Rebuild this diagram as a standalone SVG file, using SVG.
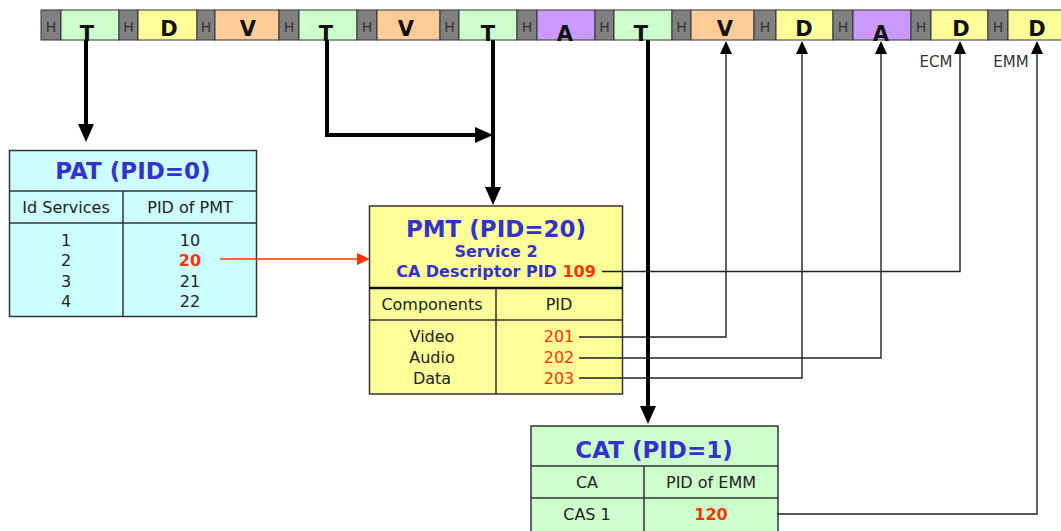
<svg xmlns="http://www.w3.org/2000/svg" width="1061" height="531" viewBox="0 0 1061 531">
<style>
.h{fill:#808080;stroke:#333;stroke-width:1}
.t{fill:#ccffcc;stroke:#333;stroke-width:1}
.d{fill:#ffff99;stroke:#333;stroke-width:1}
.v{fill:#ffcc99;stroke:#333;stroke-width:1}
.a{fill:#cc99ff;stroke:#333;stroke-width:1}
.hl{font-family:"DejaVu Sans",Verdana,sans-serif;font-size:14px;fill:#333;text-anchor:middle}
.pl{font-family:"DejaVu Sans",Verdana,sans-serif;font-size:21px;font-weight:bold;fill:#111;text-anchor:middle}
.tb{stroke:#333;stroke-width:1.5}
.ttl{font-family:"DejaVu Sans",Verdana,sans-serif;font-size:23px;font-weight:bold;fill:#3333cc;text-anchor:middle}
.sub{font-family:"DejaVu Sans",Verdana,sans-serif;font-size:16px;font-weight:bold;fill:#3333cc;text-anchor:middle}
.tx{font-family:"DejaVu Sans",Verdana,sans-serif;font-size:16px;fill:#222;text-anchor:middle}
.red{fill:#ff3300}
.b{font-weight:bold}
.lbl{font-family:"DejaVu Sans",Verdana,sans-serif;font-size:15px;fill:#333;text-anchor:middle}
.thick{fill:none;stroke:#000;stroke-width:4}
.thin{fill:none;stroke:#222;stroke-width:1.4}
.redl{fill:none;stroke:#ff3300;stroke-width:1.3}
</style>
<defs>
<marker id="mk" markerUnits="userSpaceOnUse" markerWidth="18" markerHeight="16" refX="8" refY="8" orient="auto"><path d="M0,0 L18,8 L0,16 z" fill="#000"/></marker>
<marker id="mn" markerUnits="userSpaceOnUse" markerWidth="13" markerHeight="12" refX="5" refY="6" orient="auto"><path d="M0,0 L13,6 L0,12 z" fill="#000"/></marker>
<marker id="mr" markerUnits="userSpaceOnUse" markerWidth="13" markerHeight="12" refX="5" refY="6" orient="auto"><path d="M0,0 L13,6 L0,12 z" fill="#ff3300"/></marker>
</defs>
<rect width="1061" height="531" fill="#fff"/>

<g id="stream">
<rect class="h" x="41" y="10" width="20" height="30"/><rect class="t" x="61" y="10" width="58" height="30"/>
<rect class="h" x="119" y="10" width="19" height="30"/><rect class="d" x="138" y="10" width="59" height="30"/>
<rect class="h" x="197" y="10" width="18" height="30"/><rect class="v" x="215" y="10" width="64" height="30"/>
<rect class="h" x="279" y="10" width="20" height="30"/><rect class="t" x="299" y="10" width="58" height="30"/>
<rect class="h" x="357" y="10" width="20" height="30"/><rect class="v" x="377" y="10" width="63" height="30"/>
<rect class="h" x="440" y="10" width="19" height="30"/><rect class="t" x="459" y="10" width="58" height="30"/>
<rect class="h" x="517" y="10" width="20" height="30"/><rect class="a" x="537" y="10" width="58" height="30"/>
<rect class="h" x="595" y="10" width="19" height="30"/><rect class="t" x="614" y="10" width="58" height="30"/>
<rect class="h" x="672" y="10" width="19" height="30"/><rect class="v" x="691" y="10" width="63" height="30"/>
<rect class="h" x="754" y="10" width="22" height="30"/><rect class="d" x="776" y="10" width="57" height="30"/>
<rect class="h" x="833" y="10" width="20" height="30"/><rect class="a" x="853" y="10" width="58" height="30"/>
<rect class="h" x="911" y="10" width="20" height="30"/><rect class="d" x="931" y="10" width="57" height="30"/>
<rect class="h" x="988" y="10" width="20" height="30"/><rect class="d" x="1008" y="10" width="60" height="30"/>
<text class="hl" x="51" y="32">H</text><text class="hl" x="128.5" y="32">H</text><text class="hl" x="206" y="32">H</text><text class="hl" x="289" y="32">H</text>
<text class="hl" x="367" y="32">H</text><text class="hl" x="449.5" y="32">H</text><text class="hl" x="527" y="32">H</text><text class="hl" x="604.5" y="32">H</text>
<text class="hl" x="681.5" y="32">H</text><text class="hl" x="765" y="32">H</text><text class="hl" x="843" y="32">H</text><text class="hl" x="921" y="32">H</text>
<text class="hl" x="998" y="32">H</text>
<text class="pl" x="87" y="41">T</text><text class="pl" x="169" y="36">D</text><text class="pl" x="248" y="36">V</text>
<text class="pl" x="326" y="41">T</text><text class="pl" x="406" y="36">V</text><text class="pl" x="488" y="41">T</text>
<text class="pl" x="565" y="41">A</text><text class="pl" x="641" y="41">T</text><text class="pl" x="725" y="36">V</text>
<text class="pl" x="804" y="36">D</text><text class="pl" x="881" y="41">A</text><text class="pl" x="961" y="36">D</text>
<text class="pl" x="1037" y="36">D</text>
<text class="lbl" x="936" y="67">ECM</text>
<text class="lbl" x="1011" y="67">EMM</text>
</g>

<g id="pat">
<rect x="9.5" y="150.5" width="247" height="166" fill="#ccffff" class="tb"/>
<line class="tb" x1="9.5" y1="191" x2="256.5" y2="191"/>
<line class="tb" x1="9.5" y1="223" x2="256.5" y2="223"/>
<line class="tb" x1="123" y1="191" x2="123" y2="316.5"/>
<text class="ttl" x="133" y="179">PAT (PID=0)</text>
<text class="tx" x="66" y="213">Id Services</text>
<text class="tx" x="190" y="213">PID of PMT</text>
<text class="tx" x="66" y="246">1</text><text class="tx" x="66" y="266">2</text><text class="tx" x="66" y="287">3</text><text class="tx" x="66" y="307">4</text>
<text class="tx" x="190" y="246">10</text><text class="tx red b" x="190" y="266">20</text><text class="tx" x="190" y="287">21</text><text class="tx" x="190" y="307">22</text>
</g>

<g id="pmt">
<rect x="369.5" y="206" width="253" height="188" fill="#ffff99" class="tb"/>
<line x1="369.5" y1="288" x2="622.5" y2="288" stroke="#111" stroke-width="2.5"/>
<line class="tb" x1="369.5" y1="320" x2="622.5" y2="320"/>
<line class="tb" x1="496" y1="288" x2="496" y2="394"/>
<text class="ttl" x="496" y="237">PMT (PID=20)</text>
<text class="sub" x="496" y="257">Service 2</text>
<text class="sub" x="496" y="277">CA Descriptor PID <tspan fill="#ff3300">109</tspan></text>
<text class="tx" x="432" y="310">Components</text>
<text class="tx" x="559" y="310">PID</text>
<text class="tx" x="432" y="342">Video</text><text class="tx" x="432" y="363">Audio</text><text class="tx" x="432" y="384">Data</text>
<text class="tx red" x="559" y="342">201</text><text class="tx red" x="559" y="363">202</text><text class="tx red" x="559" y="384">203</text>
</g>

<g id="cat">
<rect x="531" y="426" width="247" height="112" fill="#ccffcc" class="tb"/>
<line class="tb" x1="531" y1="466" x2="778" y2="466"/>
<line class="tb" x1="531" y1="498" x2="778" y2="498"/>
<line class="tb" x1="644" y1="466" x2="644" y2="531"/>
<text class="ttl" x="654" y="458">CAT (PID=1)</text>
<text class="tx" x="587" y="488">CA</text>
<text class="tx" x="711" y="488">PID of EMM</text>
<text class="tx" x="587" y="520">CAS 1</text>
<text class="tx red b" x="711" y="520">120</text>
</g>

<g id="connectors">
<path class="redl" d="M220,259 H362" marker-end="url(#mr)"/>
<path class="thin" d="M602,271.5 H960 V49" marker-end="url(#mn)"/>
<path class="thin" d="M579,337 H726 V49" marker-end="url(#mn)"/>
<path class="thin" d="M579,358 H881 V49" marker-end="url(#mn)"/>
<path class="thin" d="M579,378 H802 V49" marker-end="url(#mn)"/>
<path class="thin" d="M777,514 H1037 V49" marker-end="url(#mn)"/>
<path class="thick" d="M86,40 V132" marker-end="url(#mk)"/>
<path class="thick" d="M327,40 V135 H483" marker-end="url(#mk)"/>
<path class="thick" d="M493,40 V195" marker-end="url(#mk)"/>
<path class="thick" d="M648,40 V414" marker-end="url(#mk)"/>
</g>
</svg>
